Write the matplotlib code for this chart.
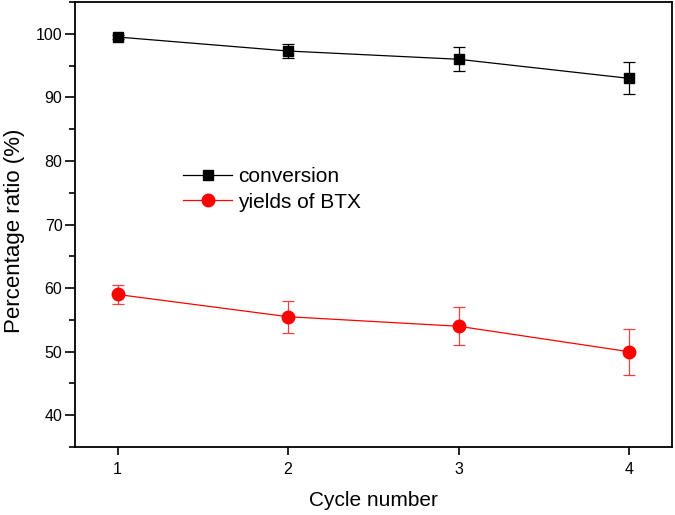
import matplotlib
matplotlib.use("Agg")
import matplotlib.pyplot as plt
from matplotlib.lines import Line2D

plt.rcParams["font.family"] = ["Liberation Sans", "DejaVu Sans"]

cycles = [1, 2, 3, 4]
conversion = [99.5, 97.3, 96.0, 93.0]
conversion_err = [0.3, 1.1, 1.9, 2.5]
btx_yield = [59.0, 55.5, 54.0, 50.0]
btx_yield_err = [1.5, 2.5, 3.0, 3.6]

fig = plt.figure(figsize=(6.75, 5.15), dpi=100)
ax = fig.add_axes([0.111, 0.132, 0.884, 0.864])

ax.errorbar(cycles, conversion, yerr=conversion_err, color="black", lw=0.9,
            marker="s", ms=7.5, capsize=4, elinewidth=0.9, capthick=0.9)
ax.errorbar(cycles, btx_yield, yerr=btx_yield_err, color="#ff0000", lw=0.9,
            marker="o", ms=9, capsize=4, elinewidth=0.9, capthick=0.9,
            ecolor="#f04040")

ax.set_xlim(0.75, 4.25)
ax.set_ylim(35, 105)
ax.set_xticks(cycles)
ax.set_yticks(range(40, 101, 10))
ax.set_yticks(range(35, 106, 5), minor=True)
ax.tick_params(axis="both", which="major", direction="out", width=1.2,
               labelsize=11.5, top=False, right=False)
ax.tick_params(axis="y", which="major", length=7, pad=2)
ax.tick_params(axis="y", which="minor", direction="out", length=4, width=1.2)
ax.tick_params(axis="x", which="major", length=6, pad=5)
for sp in ax.spines.values():
    sp.set_linewidth(1.3)

ax.set_xlabel("Cycle number", fontsize=15, labelpad=10)
ax.set_ylabel("Percentage ratio (%)", fontsize=16)
ax.yaxis.set_label_coords(-0.084, 0.485)

handles = [
    Line2D([], [], color="black", lw=0.9, marker="s", ms=7.5),
    Line2D([], [], color="#ff0000", lw=0.9, marker="o", ms=9),
]
ax.legend(handles, ["conversion", "yields of BTX"], loc="upper left",
          bbox_to_anchor=(0.1675, 0.647), frameon=False, fontsize=15,
          handlelength=2.35, borderaxespad=0, labelspacing=0.3, handletextpad=0.3)

fig.savefig("out.png", dpi=100)
